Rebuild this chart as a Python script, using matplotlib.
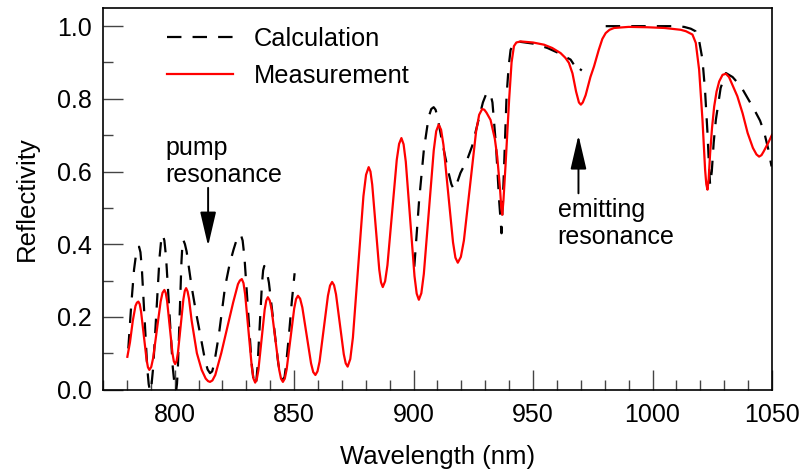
import numpy as np
import matplotlib
matplotlib.use("Agg")
import matplotlib.pyplot as plt
from matplotlib.ticker import MultipleLocator

plt.rcParams['font.family'] = ['Liberation Sans', 'DejaVu Sans']

# -----------------------------
# Data
# -----------------------------
meas_wl = [780.2, 781.3, 782.5, 783.6, 784.2, 784.8,
           785.375, 785.95, 787.1, 788.25, 788.825, 789.4,
           790.19, 790.98, 792.55, 794.13, 794.91, 795.7,
           796.26, 796.83, 797.95, 799.08, 799.64, 800.2,
           800.78, 801.35, 802.5, 803.65, 804.23, 804.8,
           805.4, 806.0, 807.1, 809.3, 811.3, 813.0, 814.0, 814.8,
           815.8, 817.0, 819.5, 822.0, 824.5, 826.5, 827.3, 828.1,
           828.8, 829.5, 830.9, 832.3, 833.0, 833.7,
           834.36, 835.03, 836.35, 837.68, 838.34, 839.0,
           839.79, 840.58, 842.15, 843.73, 844.51, 845.3,
           846.09, 846.88, 848.45, 850.03, 850.81, 851.6,
           852.51, 853.43, 855.25, 857.08, 857.99, 858.9,
           859.78, 860.65, 862.4, 864.15, 865.03, 865.9,
           866.71, 867.53, 869.15, 870.78, 871.59, 872.4,
           873.5, 874.6, 876.8, 879.0, 880.1, 881.2,
           881.94, 882.68, 884.15, 885.63, 886.36, 887.1,
           888.08, 889.05, 891.0, 892.95, 893.93, 894.9,
           895.81, 896.73, 898.55, 900.38, 901.29, 902.2,
           903.24, 904.28, 906.35, 908.43, 909.46, 910.5,
           911.5, 912.5, 914.5, 916.5, 917.5, 918.5,
           919.78, 921.05, 923.6, 926.15, 927.43, 928.7,
           929.6, 930.5, 932.2, 934.0, 935.0, 936.2, 936.7, 937.1, 937.6,
           938.5, 940.0, 941.0, 942.0, 943.0, 944.8, 950.0, 954.6, 958.0, 961.5,
           963.5, 965.0, 966.5, 968.0, 969.2, 970.0, 970.8, 972.0, 974.0, 975.5,
           977.5, 979.0, 980.4, 982.0, 983.9, 990.0, 997.8, 1005.0, 1011.8,
           1014.0, 1016.7, 1018.1, 1019.5, 1020.2, 1020.9, 1021.5, 1022.0, 1022.5,
           1023.0, 1023.5, 1024.1, 1024.9, 1025.8, 1026.8, 1027.9, 1029.3, 1030.7,
           1032.0, 1033.0, 1035.5, 1037.7, 1039.8, 1042.0, 1043.5, 1044.6, 1045.6,
           1046.5, 1048.5, 1050.0]
meas_R = [0.09, 0.13, 0.19, 0.23, 0.239, 0.242,
          0.235, 0.214, 0.148, 0.082, 0.061, 0.054,
          0.062, 0.086, 0.164, 0.242, 0.266, 0.274,
          0.266, 0.244, 0.172, 0.10, 0.078, 0.07,
          0.078, 0.10, 0.175, 0.248, 0.271, 0.279,
          0.27, 0.25, 0.19, 0.10, 0.054, 0.03, 0.023, 0.021,
          0.025, 0.04, 0.10, 0.17, 0.24, 0.29, 0.300, 0.304,
          0.293, 0.262, 0.162, 0.061, 0.030, 0.019,
          0.028, 0.053, 0.137, 0.22, 0.245, 0.254,
          0.245, 0.22, 0.138, 0.055, 0.03, 0.021,
          0.03, 0.056, 0.14, 0.223, 0.249, 0.258,
          0.25, 0.226, 0.149, 0.072, 0.048, 0.040,
          0.05, 0.077, 0.168, 0.258, 0.286, 0.296,
          0.287, 0.262, 0.18, 0.097, 0.072, 0.063,
          0.084, 0.143, 0.338, 0.532, 0.591, 0.612,
          0.60, 0.564, 0.447, 0.33, 0.295, 0.282,
          0.298, 0.342, 0.487, 0.632, 0.676, 0.692,
          0.675, 0.627, 0.47, 0.312, 0.264, 0.247,
          0.265, 0.318, 0.488, 0.658, 0.711, 0.729,
          0.715, 0.673, 0.539, 0.405, 0.363, 0.349,
          0.365, 0.41, 0.56, 0.71, 0.756, 0.772,
          0.770, 0.762, 0.742, 0.69, 0.641, 0.55, 0.50, 0.481, 0.52,
          0.62, 0.80, 0.90, 0.945, 0.955, 0.958, 0.955, 0.949, 0.94, 0.926,
          0.913, 0.899, 0.87, 0.82, 0.79, 0.784, 0.79, 0.81, 0.86, 0.889,
          0.935, 0.965, 0.981, 0.99, 0.995, 0.998, 0.997, 0.995, 0.990,
          0.986, 0.977, 0.954, 0.88, 0.81, 0.742, 0.67, 0.605, 0.565,
          0.55, 0.58, 0.65, 0.72, 0.779, 0.82, 0.848, 0.866, 0.869,
          0.86, 0.845, 0.807, 0.76, 0.706, 0.665, 0.647, 0.641, 0.645,
          0.655, 0.68, 0.701]

# calculation has gaps (nan) where the dashed curve is not drawn
calc_wl = [780.6, 781.8, 783.0, 784.0, 784.55, 785.1,
           785.68, 786.25, 787.4, 788.55, 789.13, 789.7,
           790.36, 791.03, 792.35, 793.68, 794.34, 795.0,
           795.7, 796.4, 797.8, 799.2, 799.9, 800.6,
           800.98, 801.35, 802.1, 802.85, 803.23, 803.6,
           804.3, 805.0, 807.1, 809.0, 810.6, 812.7, 813.8, 814.8,
           815.7, 816.5, 818.5, 821.1, 823.0, 824.6, 826.2, 827.7,
           828.45, 829.2, 830.7, 832.2, 832.95, 833.7,
           834.18, 834.65, 835.6, 836.55, 837.03, 837.5,
           838.48, 839.45, 841.4, 843.35, 844.33, 845.3,
           846.0, 846.5, 847.7, 849.0, 850.2, 875.0,
           900.3, 902.3, 904.3, 906.3, 907.4, 908.4, 909.2, 910.0, 912.0,
           914.5, 915.8, 916.8, 918.0, 919.6, 922.4, 924.5, 926.5, 929.0,
           930.3, 931.5, 932.3, 933.0, 934.5, 935.8, 936.8,
           937.8, 938.9, 939.8, 940.6, 942.0, 943.4, 950.0, 956.0, 961.0,
           965.7, 967.0, 968.5,
           969.6, 970.4, 975.0,
           980.4, 990.0, 1000.0, 1010.0, 1013.2, 1016.0, 1018.0, 1019.5, 1020.9,
           1022.0, 1023.0, 1023.6, 1024.1, 1024.8, 1025.6, 1026.5, 1028.5, 1030.7,
           1033.5, 1037.0, 1040.0, 1042.6, 1045.0, 1046.8, 1048.5, 1049.8]
calc_R = [0.113, 0.23, 0.33, 0.38, 0.39, 0.393,
          0.378, 0.335, 0.197, 0.058, 0.015, -0.005,
          0.016, 0.062, 0.213, 0.364, 0.41, 0.426,
          0.41, 0.364, 0.213, 0.062, 0.016, -0.005,
          0.016, 0.06, 0.206, 0.352, 0.396, 0.412,
          0.40, 0.38, 0.283, 0.21, 0.155, 0.081, 0.055, 0.045,
          0.05, 0.07, 0.15, 0.283, 0.345, 0.384, 0.418, 0.426,
          0.41, 0.365, 0.219, 0.073, 0.028, 0.012,
          0.024, 0.06, 0.176, 0.292, 0.328, 0.34,
          0.328, 0.294, 0.183, 0.072, 0.038, 0.026,
          0.035, 0.06, 0.14, 0.24, 0.32, np.nan,
          0.338, 0.52, 0.66, 0.75, 0.772, 0.777, 0.77, 0.75, 0.68,
          0.60, 0.565, 0.551, 0.565, 0.596, 0.632, 0.67, 0.724, 0.79,
          0.812, 0.818, 0.81, 0.79, 0.67, 0.52, 0.43,
          0.60, 0.807, 0.89, 0.935, 0.952, 0.958, 0.952, 0.94, 0.925,
          0.908, 0.895, np.nan,
          0.882, 0.878, np.nan,
          1.0, 1.0, 1.0, 1.0, 0.998, 0.993, 0.986, 0.96, 0.908,
          0.82, 0.706, 0.62, 0.563, 0.60, 0.68, 0.742, 0.83, 0.871,
          0.86, 0.834, 0.80, 0.77, 0.74, 0.706, 0.66, 0.614]

# -----------------------------
# Figure
# -----------------------------
fig = plt.figure(figsize=(8.02, 4.73), dpi=100)
ax = fig.add_axes([0.1284, 0.1765, 0.8342, 0.8066])

ax.plot(calc_wl, calc_R, color='black', lw=1.6, linestyle=(0, (6.5, 5.0)),
        label='Calculation')
ax.plot(meas_wl, meas_R, color='#ff0000', lw=1.6, label='Measurement',
        solid_joinstyle='round')

ax.set_xlim(770, 1050)
ax.set_ylim(0, 1.05)
ax.xaxis.set_major_locator(MultipleLocator(50))
ax.xaxis.set_minor_locator(MultipleLocator(10))
ax.yaxis.set_major_locator(MultipleLocator(0.2))
ax.yaxis.set_minor_locator(MultipleLocator(0.1))
ax.yaxis.set_major_formatter(plt.FormatStrFormatter('%.1f'))
ax.tick_params(which='both', direction='in', top=False, right=False,
               width=1.0, color='#444444', labelsize=18)
ax.tick_params(axis='x', which='major', length=14.5, pad=10)
ax.tick_params(axis='y', which='major', length=14.5, pad=8)
ax.tick_params(which='minor', length=7.5)
for s in ax.spines.values():
    s.set_linewidth(1.2)

ax.set_xlabel('Wavelength (nm)', fontsize=18.5, labelpad=13)
ax.set_ylabel('Reflectivity', fontsize=18.5, labelpad=13)

ax.legend(loc='upper left', bbox_to_anchor=(0.095, 0.95), frameon=False,
          fontsize=18.3, handlelength=2.6, handletextpad=0.85, labelspacing=0.5,
          borderpad=0, borderaxespad=0)

# resonance annotations
arrow = dict(arrowstyle='-|>,head_length=1.5,head_width=0.35',
             color='black', lw=1.4, shrinkA=0, shrinkB=0, mutation_scale=14)
ax.text(796, 0.628, 'pump\nresonance', fontsize=18, ha='left', va='center',
        linespacing=1.15)
ax.annotate('', xy=(814, 0.395), xytext=(814, 0.555), arrowprops=arrow)
ax.text(960.3, 0.458, 'emitting\nresonance', fontsize=18, ha='left', va='center',
        linespacing=1.15)
ax.annotate('', xy=(969, 0.70), xytext=(969, 0.54), arrowprops=arrow)

fig.savefig('out.png', dpi=100)
